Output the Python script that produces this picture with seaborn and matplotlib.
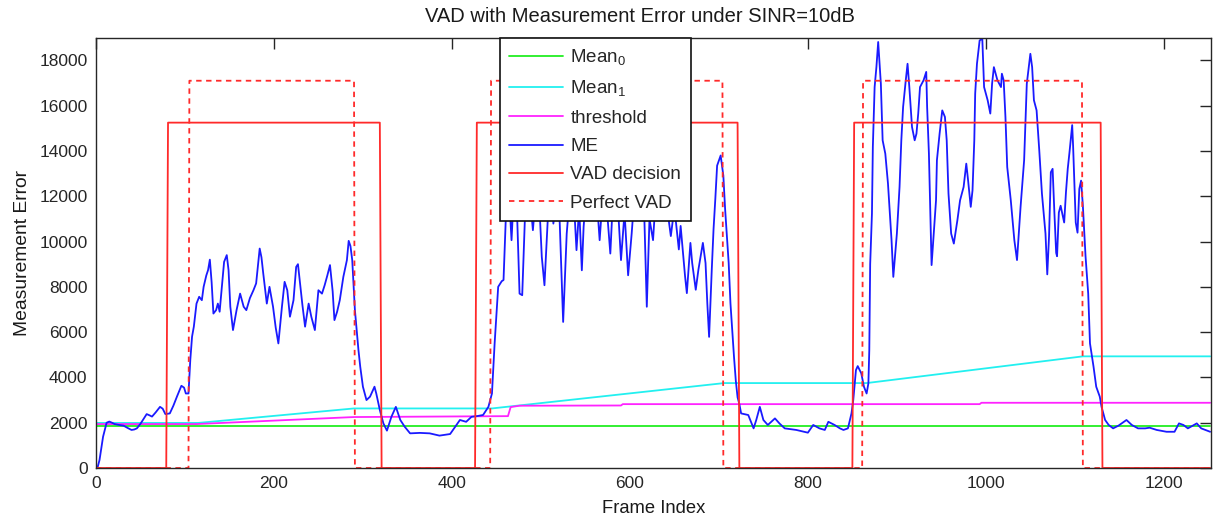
import numpy as np
import pandas as pd
import matplotlib
matplotlib.use("Agg")
import matplotlib.pyplot as plt
import seaborn as sns

# ---------------- data ----------------
n_frames = 1253

# Mean0 (green), Mean1 (cyan), threshold (magenta): breakpoints (frame, value)
mean0_x = [0, 1252]
mean0_y = [1870, 1870]

mean1_x = [0, 115, 290, 445, 706, 866, 1109, 1252]
mean1_y = [1990, 1990, 2630, 2630, 3750, 3750, 4930, 4930]

thr_x = [0, 113, 290, 463, 466, 476, 590, 592, 993, 995, 1252]
thr_y = [1940, 1940, 2250, 2290, 2690, 2750, 2760, 2820, 2820, 2880, 2880]

# Measurement error (blue): values read at frames
me_x = [0, 2, 4, 8, 12, 15, 18, 21, 26, 31, 36, 40, 43, 46, 50, 54, 57, 60, 63, 67,
        72, 75, 78, 83, 87, 91, 96, 99, 101, 104, 106, 108, 110, 113, 116, 119, 121, 124, 126, 128,
        130, 132, 135, 137, 139, 141, 144, 147, 149, 151, 154, 158, 162, 166, 169, 173, 177, 180, 184, 186,
        188, 192, 195, 199, 202, 205, 209, 212, 215, 218, 222, 225, 227, 229, 232, 235, 239, 242, 246, 250,
        254, 257, 260, 263, 266, 268, 271, 274, 278, 282, 284, 286, 288, 291, 295, 297, 300, 304, 308, 313,
        315, 319, 323, 327, 332, 337, 342, 347, 353, 364, 375, 386, 398, 409, 416, 422, 428, 435, 441, 445,
        448, 452, 456, 458, 461, 464, 467, 470, 473, 476, 479, 482, 486, 491, 495, 499, 501, 504, 508, 511,
        514, 518, 521, 525, 529, 533, 537, 540, 543, 546, 548, 552, 557, 561, 566, 570, 574, 578, 581, 585,
        590, 594, 598, 602, 606, 611, 615, 619, 622, 626, 630, 635, 639, 644, 646, 650, 655, 657, 662, 664,
        668, 670, 674, 677, 682, 685, 687, 689, 692, 694, 696, 698, 702, 705, 707, 711, 713, 717, 719, 721,
        723, 725, 733, 739, 742, 746, 750, 755, 763, 768, 774, 787, 800, 806, 813, 819, 823, 830, 836, 840,
        845, 849, 851, 854, 856, 860, 863, 866, 868, 869, 870, 872, 873, 875, 877, 879, 882, 884, 887, 890,
        894, 896, 900, 903, 905, 907, 910, 912, 914, 917, 920, 922, 924, 926, 930, 933, 934, 936, 939, 944,
        945, 948, 951, 954, 956, 958, 961, 964, 968, 971, 975, 978, 980, 983, 985, 987, 988, 990, 993, 996,
        998, 1002, 1005, 1007, 1009, 1013, 1017, 1018, 1020, 1022, 1024, 1028, 1032, 1035, 1039, 1043, 1046, 1050, 1052, 1054,
        1057, 1060, 1063, 1067, 1069, 1071, 1073, 1075, 1077, 1079, 1080, 1082, 1084, 1088, 1090, 1092, 1094, 1097, 1098, 1101,
        1103, 1105, 1107, 1109, 1112, 1115, 1117, 1121, 1124, 1128, 1130, 1134, 1138, 1143, 1149, 1158, 1164, 1171, 1179, 1184,
        1192, 1203, 1212, 1217, 1222, 1227, 1237, 1242, 1252]
me_y = [0, 50, 350, 1380, 2000, 2050, 2000, 1940, 1900, 1870, 1760, 1680, 1700, 1750, 1950, 2200, 2380, 2330, 2270, 2450,
        2700, 2620, 2380, 2410, 2750, 3150, 3630, 3550, 3290, 3290, 4760, 5800, 6240, 7260, 7560, 7410, 8000, 8500, 8740, 9200,
        8200, 6820, 6970, 7260, 6900, 7800, 9100, 9400, 8740, 7120, 6090, 6970, 7700, 7120, 6970, 7500, 7850, 8150, 9690, 9300,
        8590, 7260, 8000, 7120, 6200, 5500, 7120, 8220, 7850, 6680, 7410, 8880, 9000, 8290, 7200, 6240, 7260, 6680, 6090, 7850,
        7700, 8070, 8500, 8960, 7800, 6530, 6900, 7410, 8440, 9180, 10030, 9800, 9180, 6970, 5200, 4470, 3590, 3000, 3150, 3590,
        3290, 2560, 1970, 1650, 2260, 2700, 2120, 1820, 1530, 1550, 1530, 1430, 1500, 2120, 2040, 2260, 2290, 2340, 2700, 3290,
        5500, 8000, 8250, 8300, 11500, 12200, 10060, 12500, 11500, 7700, 7630, 11000, 12800, 10500, 12400, 11000, 9320, 8070, 11200, 12600,
        10790, 12000, 11000, 6450, 10350, 12300, 11800, 9620, 11500, 8730, 10650, 12700, 11800, 12900, 10060, 12300, 11500, 9470, 11900, 12600,
        9180, 11300, 8510, 10350, 12500, 11900, 12800, 7120, 11000, 10060, 12500, 11700, 12800, 10830, 10240, 11500, 9650, 10690, 8460, 7720,
        9940, 9050, 7870, 8760, 9940, 9050, 7270, 5790, 8760, 10550, 11890, 13350, 13800, 12910, 11430, 9050, 7270, 4900, 3860, 3120,
        2820, 2410, 2340, 1750, 2120, 2700, 2120, 1900, 2190, 1970, 1750, 1680, 1560, 1900, 1750, 1680, 2040, 1900, 1750, 1680,
        1750, 2410, 3000, 4320, 4500, 4180, 3590, 3290, 3740, 5200, 9000, 11240, 14180, 16820, 17700, 18810, 16970, 14470, 13880, 12560,
        10060, 8440, 10350, 12410, 14470, 15940, 17120, 17850, 16820, 15060, 14470, 14760, 15650, 16820, 17120, 17490, 15940, 13880, 8960, 11820,
        13590, 14760, 15790, 15500, 14470, 12120, 10350, 9910, 10940, 11820, 12410, 13440, 12710, 11530, 12260, 14470, 16530, 17850, 18880, 18950,
        16820, 16240, 15650, 16970, 17700, 17120, 16820, 17410, 17120, 15500, 13290, 11820, 10060, 9180, 11530, 13590, 16970, 18290, 17700, 16240,
        15790, 14030, 12120, 10350, 8550, 10240, 13060, 13210, 11280, 9500, 9350, 11280, 11580, 10840, 12170, 13210, 13950, 15140, 14250, 10840,
        10390, 12320, 12690, 11580, 9350, 7700, 5500, 4470, 3590, 3150, 2700, 2120, 1900, 1750, 1870, 2120, 1900, 1750, 1750, 1780,
        1680, 1600, 1600, 1970, 1900, 1750, 1970, 1750, 1600]

# VAD decision (solid red) and perfect VAD (dashed red): active segments and levels
vad_starts = [80, 427, 851]
vad_ends = [320, 722, 1130]
vad_level = 15250
perfect_starts = [105, 444, 862]
perfect_ends = [290, 704, 1108]
perfect_level = 17100

labels = ["Mean$_0$", "Mean$_1$", "threshold", "ME", "VAD decision", "Perfect VAD"]
x_ticks = [0, 200, 400, 600, 800, 1000, 1200]
y_ticks = [0, 2000, 4000, 6000, 8000, 10000, 12000, 14000, 16000, 18000]

# ---------------- build step series ----------------
frames = np.arange(n_frames)
vad = np.zeros(n_frames)
for s, e in zip(vad_starts, vad_ends):
    vad[s + 1:e] = vad_level
    vad[s] = vad_level / 2
    vad[e] = vad_level / 2
perfect = np.zeros(n_frames)
for s, e in zip(perfect_starts, perfect_ends):
    perfect[s:e + 1] = perfect_level

# ---------------- plot ----------------
sns.set_theme(style="white")
plt.rcParams["font.family"] = ["Liberation Sans", "DejaVu Sans"]
plt.rcParams["mathtext.fontset"] = "custom"
plt.rcParams["mathtext.rm"] = "Liberation Sans"
plt.rcParams["mathtext.it"] = "Liberation Sans"

fig = plt.figure(figsize=(12.16, 5.2), dpi=100)
ax = fig.add_axes([0.0789, 0.1, 0.9170, 0.8275])

lw = 1.3
sns.lineplot(x=mean0_x, y=mean0_y, color="#22ee22", lw=lw, ax=ax, label=labels[0], estimator=None)
sns.lineplot(x=mean1_x, y=mean1_y, color="#22f0f0", lw=lw, ax=ax, label=labels[1], estimator=None)
sns.lineplot(x=thr_x, y=thr_y, color="#ff22ff", lw=lw, ax=ax, label=labels[2], estimator=None)
sns.lineplot(x=me_x, y=me_y, color="#1a1aff", lw=lw, ax=ax, label=labels[3], estimator=None)
sns.lineplot(x=frames, y=vad, color="#ff2a2a", lw=lw, ax=ax, label=labels[4], estimator=None)
sns.lineplot(x=frames, y=perfect, color="#ff2a2a", lw=lw, ax=ax, label=labels[5], estimator=None)
ax.lines[-1].set_dashes((3, 2.5))

ax.set_xlim(0, n_frames)
ax.set_ylim(0, 19000)
ax.set_xticks(x_ticks)
ax.set_yticks(y_ticks)
ax.tick_params(direction="in", top=True, right=True, length=8, width=1, labelsize=12.5,
               colors="#262626", pad=6)
for sp in ax.spines.values():
    sp.set_color("#262626")
    sp.set_linewidth(1.0)

ax.set_title("VAD with Measurement Error under SINR=10dB", fontsize=14.5, pad=11.5,
             color="#1a1a1a", x=0.488)
ax.set_xlabel("Frame Index", fontsize=13.2, color="#1a1a1a", labelpad=6)
ax.set_ylabel("Measurement Error", fontsize=13.9, color="#1a1a1a", labelpad=6)

leg = ax.legend(loc="upper left", bbox_to_anchor=(0.362, 1.0), borderaxespad=0,
                fontsize=13.5, frameon=True, fancybox=False, framealpha=1,
                edgecolor="#111111", handlelength=2.9, handletextpad=0.38,
                labelspacing=0.6, borderpad=0.5)
leg.get_frame().set_linewidth(1.2)
leg.get_lines()[-1].set_dashes((3, 2.5))

fig.savefig("out.png", dpi=100, facecolor="white")
